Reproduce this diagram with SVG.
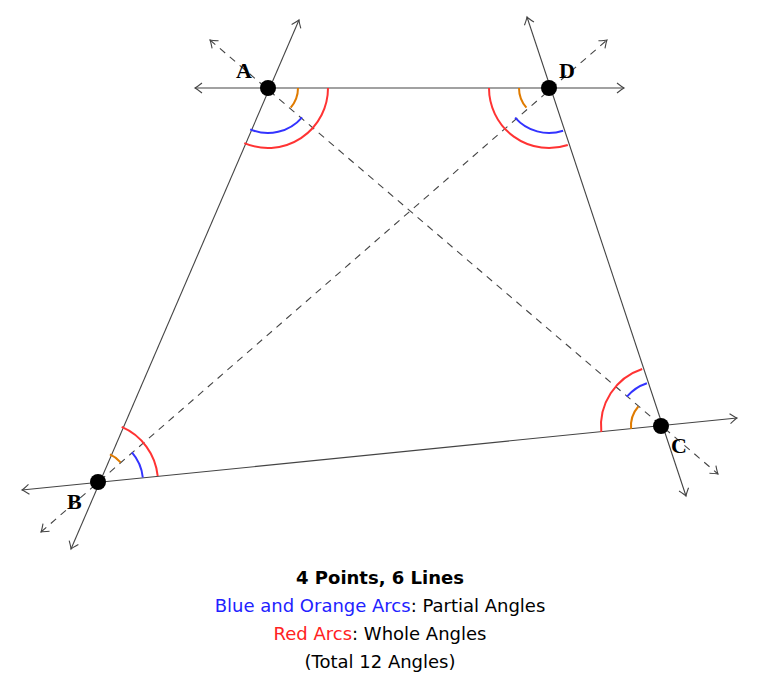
<svg xmlns="http://www.w3.org/2000/svg" width="771" height="697" viewBox="0 0 771 697">
<style>
.ln{stroke:#444;stroke-width:1.1;fill:none;marker-start:url(#ar);marker-end:url(#ar)}
.ds{stroke-dasharray:7,6}
.arc{fill:none;stroke-width:2}
.r{stroke:#f33}.b{stroke:#33f}.o{stroke:#e07b00}
.pt{fill:#000}
.lb{font-family:"Liberation Serif",serif;font-size:22px;font-weight:bold;fill:#000}
.cap{font-family:"DejaVu Sans","Liberation Sans",sans-serif;font-size:18px;text-anchor:middle;fill:#000}
</style>
<defs>
<marker id="ar" viewBox="-10 -6 12 12" markerWidth="12" markerHeight="12" markerUnits="userSpaceOnUse" orient="auto-start-reverse" refX="0" refY="0">
<path d="M-7,-5 Q-2,-1 0,0 Q-2,1 -7,5" fill="none" stroke="#444" stroke-width="1.1"/>
</marker>
</defs>
<g id="connectors">
<line class="ln" x1="71" y1="549" x2="299" y2="20"/>
<line class="ln" x1="686" y1="496" x2="527" y2="17"/>
<line class="ln" x1="195" y1="88" x2="624" y2="88"/>
<line class="ln" x1="22" y1="490" x2="737" y2="418"/>
<line class="ln ds" x1="210" y1="40" x2="718" y2="474"/>
<line class="ln ds" x1="41" y1="532" x2="607" y2="40"/>
</g>
<g id="arcs">
<path class="arc r" d="M328,88 A60,60 0 0 1 244.3,143.1"/>
<path class="arc b" d="M302.1,117.3 A45,45 0 0 1 250.2,129.3"/>
<path class="arc o" d="M298,88 A30,30 0 0 1 290.7,107.6"/>
<path class="arc r" d="M567.8,145 A60,60 0 0 1 489,88"/>
<path class="arc b" d="M563.1,130.7 A45,45 0 0 1 515.1,117.6"/>
<path class="arc o" d="M526.4,107.7 A30,30 0 0 1 519,88"/>
<path class="arc r" d="M121.7,426.9 A60,60 0 0 1 157.7,476"/>
<path class="arc b" d="M131.9,452.4 A45,45 0 0 1 142.8,477.5"/>
<path class="arc o" d="M109.9,454.4 A30,30 0 0 1 120.6,462.3"/>
<path class="arc r" d="M601.3,432 A60,60 0 0 1 642.2,369"/>
<path class="arc b" d="M626.9,396.7 A45,45 0 0 1 646.9,383.3"/>
<path class="arc o" d="M631.1,429 A30,30 0 0 1 638.3,406.5"/>
</g>
<g id="A"><circle class="pt" cx="268" cy="88" r="8"/><text class="lb" x="236" y="78">A</text></g>
<g id="D"><circle class="pt" cx="549" cy="88" r="8"/><text class="lb" x="559" y="78">D</text></g>
<g id="B"><circle class="pt" cx="98" cy="482" r="8"/><text class="lb" x="67" y="509">B</text></g>
<g id="C"><circle class="pt" cx="661" cy="426" r="8"/><text class="lb" x="671" y="453">C</text></g>
<g id="caption">
<text class="cap" x="380" y="584" font-weight="bold">4 Points, 6 Lines</text>
<text class="cap" x="380" y="612"><tspan fill="#22f">Blue and Orange Arcs</tspan>: Partial Angles</text>
<text class="cap" x="380" y="640"><tspan fill="#f22">Red Arcs</tspan>: Whole Angles</text>
<text class="cap" x="380" y="668">(Total 12 Angles)</text>
</g>
</svg>
